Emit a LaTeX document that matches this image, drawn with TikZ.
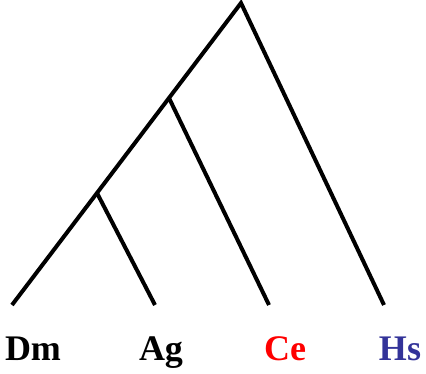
\documentclass[tikz,border=0pt]{standalone}
\usepackage{fontspec}
\setmainfont{Liberation Serif}
\definecolor{hsblue}{RGB}{51,51,153}
\begin{document}
\begin{tikzpicture}[x=1pt,y=-1pt,
  branch/.style={line width=4pt,line cap=butt},
  taxon/.style={anchor=base,inner sep=0pt,font=\fontsize{36}{42}\selectfont\bfseries}]
\useasboundingbox (0,0) rectangle (426,374);
\coordinate (root) at (241,3);
\coordinate (n1) at (169,98);
\coordinate (n2) at (97,193);
\coordinate (dm) at (12,305);
\coordinate (ag) at (155,305);
\coordinate (ce) at (269,305);
\coordinate (hs) at (384,305);
\draw[branch] (dm) -- (n2) -- (n1) -- (root) -- (hs);
\draw[branch] (n2) -- (ag);
\draw[branch] (n1) -- (ce);
\node[taxon] (ldm) at (33,360) {Dm};
\node[taxon] (lag) at (161,360) {Ag};
\node[taxon,text=red] (lce) at (285,360) {Ce};
\node[taxon,text=hsblue] (lhs) at (400,360) {Hs};
\end{tikzpicture}
\end{document}
